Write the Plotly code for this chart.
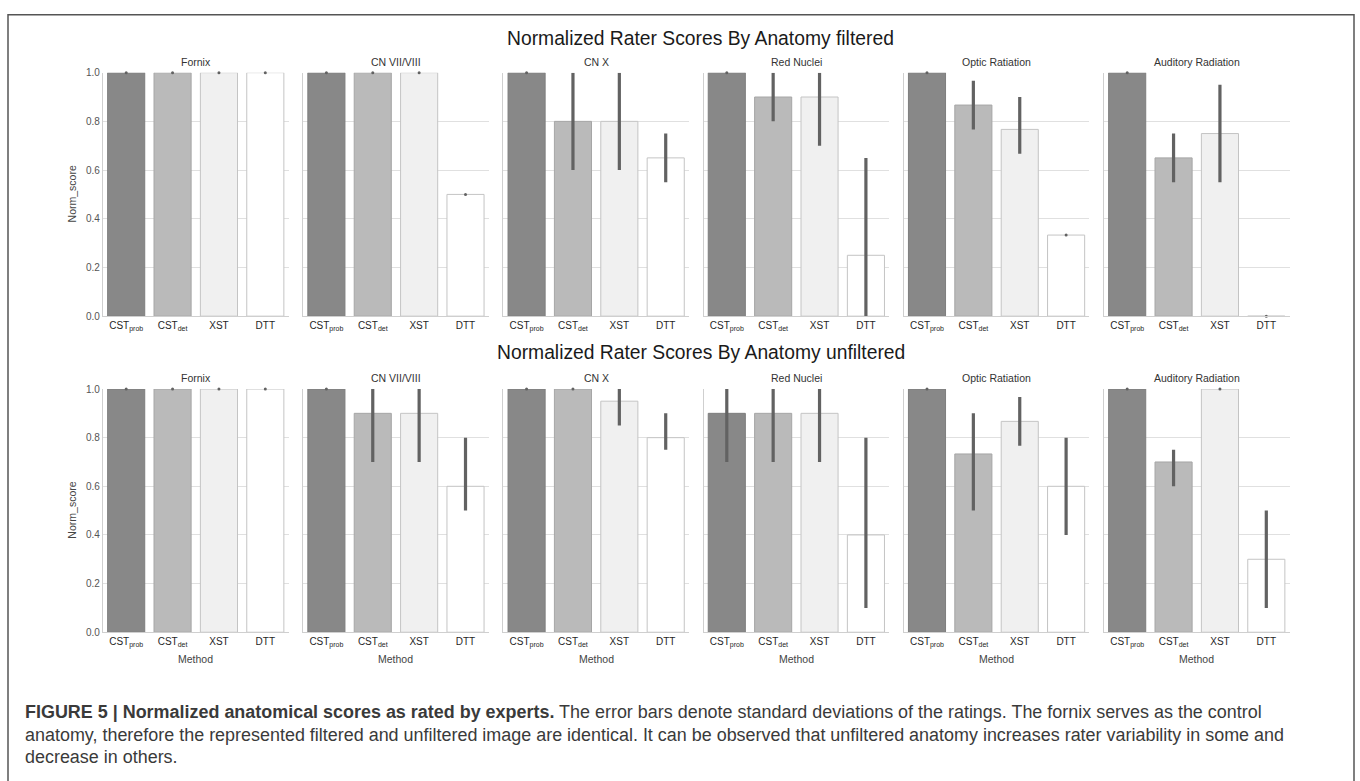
import plotly.graph_objects as go

# ---------------- data ----------------
methods = ["CSTprob", "CSTdet", "XST", "DTT"]
method_labels = ["CST<sub>prob</sub>", "CST<sub>det</sub>", "XST", "DTT"]
anatomies = ["Fornix", "CN VII/VIII", "CN X", "Red Nuclei", "Optic Ratiation", "Auditory Radiation"]

# filtered: mean, lower / upper end of error bar, per anatomy (order of methods)
filtered_mean = [
    [1.0, 1.0, 1.0, 1.0],
    [1.0, 1.0, 1.0, 0.5],
    [1.0, 0.8, 0.8, 0.65],
    [1.0, 0.9, 0.9, 0.25],
    [1.0, 0.867, 0.767, 0.333],
    [1.0, 0.65, 0.75, 0.0],
]
filtered_low = [
    [1.0, 1.0, 1.0, 1.0],
    [1.0, 1.0, 1.0, 0.5],
    [1.0, 0.6, 0.6, 0.55],
    [1.0, 0.8, 0.7, 0.0],
    [1.0, 0.767, 0.667, 0.333],
    [1.0, 0.55, 0.55, 0.0],
]
filtered_high = [
    [1.0, 1.0, 1.0, 1.0],
    [1.0, 1.0, 1.0, 0.5],
    [1.0, 1.0, 1.0, 0.75],
    [1.0, 1.0, 1.0, 0.65],
    [1.0, 0.967, 0.9, 0.333],
    [1.0, 0.75, 0.95, 0.0],
]

# unfiltered
unfiltered_mean = [
    [1.0, 1.0, 1.0, 1.0],
    [1.0, 0.9, 0.9, 0.6],
    [1.0, 1.0, 0.95, 0.8],
    [0.9, 0.9, 0.9, 0.4],
    [1.0, 0.733, 0.867, 0.6],
    [1.0, 0.7, 1.0, 0.3],
]
unfiltered_low = [
    [1.0, 1.0, 1.0, 1.0],
    [1.0, 0.7, 0.7, 0.5],
    [1.0, 1.0, 0.85, 0.75],
    [0.7, 0.7, 0.7, 0.1],
    [1.0, 0.5, 0.767, 0.4],
    [1.0, 0.6, 1.0, 0.1],
]
unfiltered_high = [
    [1.0, 1.0, 1.0, 1.0],
    [1.0, 1.0, 1.0, 0.8],
    [1.0, 1.0, 1.0, 0.9],
    [1.0, 1.0, 1.0, 0.8],
    [1.0, 0.9, 0.967, 0.8],
    [1.0, 0.75, 1.0, 0.5],
]

row_titles = ["Normalized Rater Scores By Anatomy filtered",
              "Normalized Rater Scores By Anatomy unfiltered"]
y_ticks = [0.0, 0.2, 0.4, 0.6, 0.8, 1.0]
y_tick_labels = ["0.0", "0.2", "0.4", "0.6", "0.8", "1.0"]

caption_bold = "FIGURE 5 | Normalized anatomical scores as rated by experts."
caption_lines = [
    " The error bars denote standard deviations of the ratings. The fornix serves as the control",
    "anatomy, therefore the represented filtered and unfiltered image are identical. It can be observed that unfiltered anatomy increases rater variability in some and",
    "decrease in others.",
]

# ---------------- styling / layout ----------------
W, H = 1360, 781
FONT = "Liberation Sans, Arial, Helvetica, sans-serif"
bar_colors = ["#888888", "#bababa", "#f0f0f0", "#ffffff"]
edge_colors = ["#7e7e7e", "#a6a6a6", "#c4c4c4", "#c4c4c4"]
err_color = "#626262"
grid_color = "#e0e0e0"
spine_color = "#cfcfcf"

panel_left0 = 103.0
panel_pitch = 200.2
panel_width = 185.5
rows_px = [(67.7, 315.0), (389.0, 636.0)]  # (top y of 1.0, bottom y of 0.0)


def px_x(x):
    return x / W


def px_y(y):
    return 1 - y / H


fig = go.Figure()
annotations = []
layout_axes = {}

data_rows = [
    (filtered_mean, filtered_low, filtered_high),
    (unfiltered_mean, unfiltered_low, unfiltered_high),
]

idx = 0
for r, (means, lows, highs) in enumerate(data_rows):
    ytop, ybot = rows_px[r]
    for c, anat in enumerate(anatomies):
        idx += 1
        xa = "x" if idx == 1 else f"x{idx}"
        ya = "y" if idx == 1 else f"y{idx}"
        m = means[c]
        plus = [h - v for h, v in zip(highs[c], m)]
        minus = [v - l for v, l in zip(m, lows[c])]
        fig.add_trace(go.Bar(
            x=methods, y=m, xaxis=xa, yaxis=ya, width=0.8,
            marker=dict(color=bar_colors, line=dict(color=edge_colors, width=1)),
            error_y=dict(type="data", symmetric=False, array=plus, arrayminus=minus,
                         color=err_color, thickness=3.2, width=0),
            showlegend=False, hoverinfo="skip",
        ))
        # tiny caps for zero-length deviations (as drawn in the reference)
        zx = [mm for mm, p, q in zip(methods, plus, minus) if p == 0 and q == 0]
        zy = [v for v, p, q in zip(m, plus, minus) if p == 0 and q == 0]
        if zx:
            fig.add_trace(go.Scatter(
                x=zx, y=zy, xaxis=xa, yaxis=ya, mode="markers",
                marker=dict(color=err_color, size=3, symbol="circle"),
                cliponaxis=False, showlegend=False, hoverinfo="skip",
            ))
        x0 = panel_left0 + c * panel_pitch
        x1 = x0 + panel_width
        xkey = "xaxis" if idx == 1 else f"xaxis{idx}"
        ykey = "yaxis" if idx == 1 else f"yaxis{idx}"
        layout_axes[xkey] = dict(
            domain=[px_x(x0), px_x(x1)], anchor=ya, type="category",
            categoryorder="array", categoryarray=methods,
            tickvals=methods, ticktext=method_labels, range=[-0.5, 3.5],
            showgrid=False, showline=True, linecolor=spine_color, linewidth=1.2,
            ticks="", zeroline=False, tickfont=dict(family=FONT, size=10, color="#262626"),
            fixedrange=True,
        )
        layout_axes[ykey] = dict(
            domain=[px_y(ybot), px_y(ytop)], anchor=xa, range=[0, 1.0],
            tickvals=y_ticks, ticktext=y_tick_labels, showticklabels=(c == 0),
            showgrid=True, gridcolor=grid_color, gridwidth=1.2,
            showline=True, linecolor=spine_color, linewidth=1.2, zeroline=False,
            ticks="", tickfont=dict(family=FONT, size=10, color="#555555"),
            fixedrange=True,
        )
        # panel title
        annotations.append(dict(
            text=anat, x=px_x((x0 + x1) / 2), y=px_y(ytop - 11), xref="paper", yref="paper",
            xanchor="center", yanchor="middle", showarrow=False,
            font=dict(family=FONT, size=10.5, color="#333333"),
        ))
        if r == 1:
            annotations.append(dict(
                text="Method", x=px_x((x0 + x1) / 2), y=px_y(663), xref="paper", yref="paper",
                xanchor="center", yanchor="middle", showarrow=False,
                font=dict(family=FONT, size=10.5, color="#444444"),
            ))
    # y axis title
    annotations.append(dict(
        text="Norm_score", x=px_x(72), y=px_y((ytop + ybot) / 2), xref="paper", yref="paper",
        xanchor="center", yanchor="middle", textangle=-90, showarrow=False,
        font=dict(family=FONT, size=10.5, color="#444444"),
    ))

# row titles
for title, ypx in zip(row_titles, [33, 352]):
    annotations.append(dict(
        text=title, x=px_x(701), y=px_y(ypx), xref="paper", yref="paper",
        xanchor="center", yanchor="middle", showarrow=False,
        font=dict(family=FONT, size=19.3, color="#1a1a1a"),
    ))

# caption
cap_y = [717, 740, 763]
cap_texts = [
    f"<b>{caption_bold}</b>{caption_lines[0]}",
    caption_lines[1],
    caption_lines[2],
]
for t, ypx in zip(cap_texts, cap_y):
    annotations.append(dict(
        text=t, x=px_x(23), y=px_y(ypx), xref="paper", yref="paper",
        xanchor="left", yanchor="middle", showarrow=False, align="left",
        font=dict(family=FONT, size=17.95, color="#3a3a3a"),
    ))

shapes = [dict(type="rect", xref="paper", yref="paper",
               x0=px_x(8), x1=px_x(1354), y0=-0.05, y1=px_y(9),
               line=dict(color="#555555", width=1.5), fillcolor="rgba(0,0,0,0)", layer="above")]

fig.update_layout(
    width=W, height=H, margin=dict(l=0, r=0, t=0, b=0),
    paper_bgcolor="white", plot_bgcolor="white",
    annotations=annotations, shapes=shapes, bargap=0.2,
    font=dict(family=FONT),
    **layout_axes,
)

post = (
    "document.documentElement.style.margin='0';"
    "document.documentElement.style.overflow='hidden';"
    "document.body.style.margin='0';document.body.style.padding='0';"
    "document.body.style.overflow='hidden';"
    "document.body.style.height='781px';"
    "var gd=document.getElementsByClassName('plotly-graph-div')[0];"
    "gd.style.position='fixed';gd.style.top='0px';gd.style.left='0px';"
)

fig.write_html("out.html", config={"displayModeBar": False}, post_script=post)
